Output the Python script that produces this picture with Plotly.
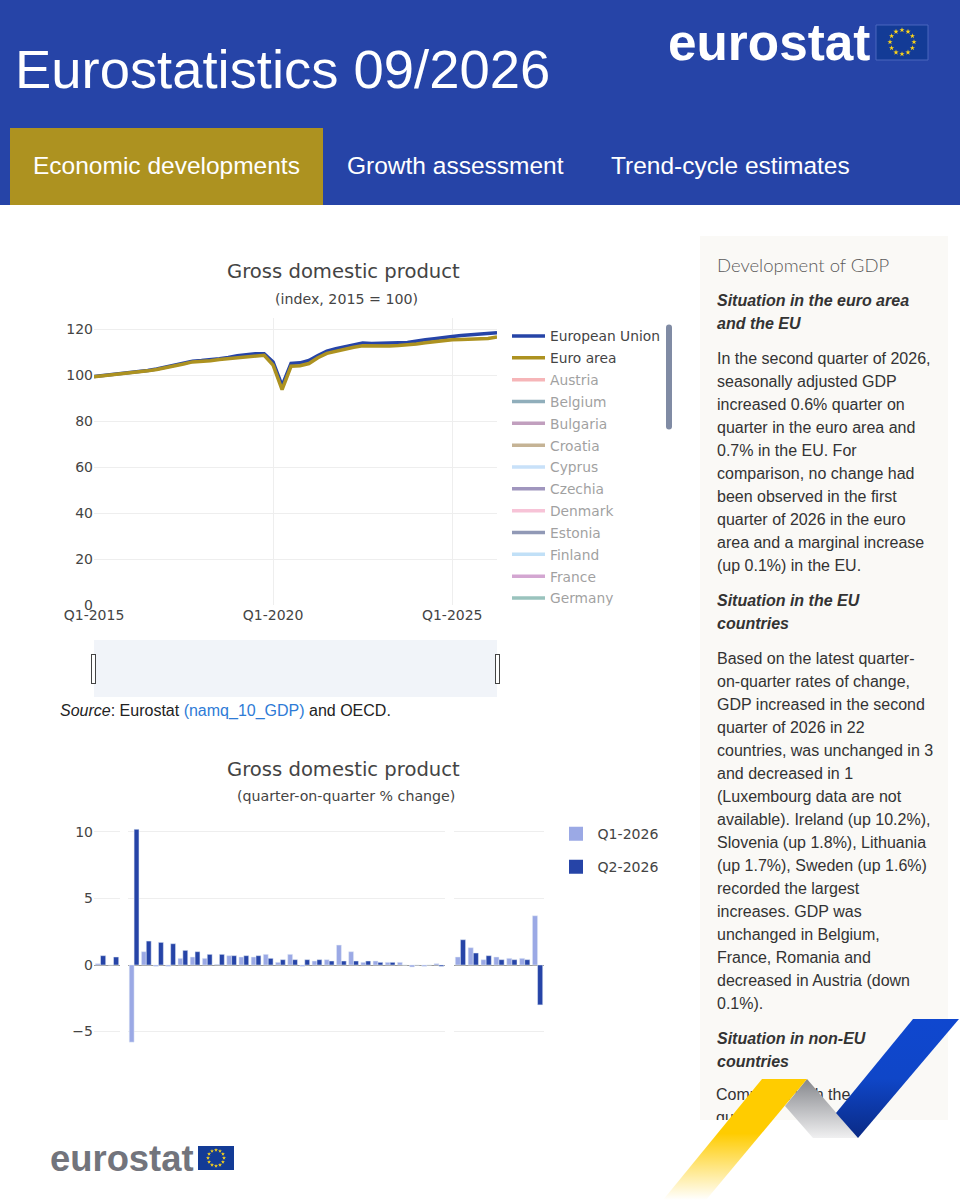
import math
import plotly.graph_objects as go

# ---------- data ----------
QUARTERS = [f"Q{q}-{y}" for y in range(2015, 2027) for q in (1, 2, 3, 4)][:46]
EU_INDEX = [99.5, 99.9, 100.4, 100.9, 101.3, 101.7, 102.2, 102.8, 103.6, 104.4, 105.3, 106.2,
            106.5, 106.8, 107.3, 107.8, 108.6, 109.0, 109.4, 109.4,
            105.8, 95.6, 105.2, 105.5, 106.5, 108.7, 110.6, 111.6, 112.5, 113.2, 114.1, 113.9,
            113.9, 114.0, 114.2, 114.3, 115.0, 115.5, 116.0, 116.6, 117.0, 117.4, 117.7, 118.0,
            118.1, 118.6]
EA_INDEX = [99.4, 99.8, 100.2, 100.7, 101.1, 101.5, 102.0, 102.6, 103.3, 104.1, 105.0, 105.9,
            106.0, 106.4, 106.9, 107.3, 107.8, 108.2, 108.6, 108.8,
            104.5, 93.8, 104.0, 104.2, 105.2, 107.7, 109.6, 110.5, 111.5, 112.3, 112.9, 112.8,
            112.7, 112.8, 113.0, 113.2, 113.7, 114.2, 114.7, 115.2, 115.5, 115.7, 115.9, 116.1,
            116.1, 116.7]
LEGEND_ONLY = [("Austria", "#EE6E73"), ("Belgium", "#24607A"), ("Bulgaria", "#84417F"), ("Croatia", "#8C6A2E"),
               ("Cyprus", "#93C4F5"), ("Czechia", "#44307F"), ("Denmark", "#F089B0"), ("Estonia", "#26356F"),
               ("Finland", "#85C2F0"), ("France", "#A94FA5"), ("Germany", "#37877C"), ("Greece", "#888888"),
               ("Hungary", "#888888"), ("Ireland", "#888888"), ("Italy", "#888888"), ("Latvia", "#888888"),
               ("Lithuania", "#888888"), ("Luxembourg", "#888888"), ("Malta", "#888888"), ("Netherlands", "#888888"),
               ("Poland", "#888888"), ("Portugal", "#888888"), ("Romania", "#888888"), ("Slovakia", "#888888"),
               ("Slovenia", "#888888"), ("Spain", "#888888"), ("Sweden", "#888888"), ("Norway", "#888888"),
               ("Switzerland", "#888888"), ("United Kingdom", "#888888"), ("Iceland", "#888888"),
               ("United States", "#888888"), ("Japan", "#888888")]

# The bars carry no readable labels in the picture; only the countries named in the text are named.
AGG_CATS = ["European Union", "Euro area"]
AGG_Q1 = [0.1, 0.0]
AGG_Q2 = [0.7, 0.6]
EU_CATS = ["Ireland", "Slovenia", "Lithuania", "Sweden"] + [f"EU member {i}" for i in range(5, 23)] + \
          ["Belgium", "France", "Romania", "Austria"]
EU_Q1 = [-5.8, 1.0, -0.1, -0.1, 0.5, 0.6, 0.5, 0.05, 0.7, 0.6, 0.6, 0.8, 0.2, 0.8, -0.1, 0.3, 0.4, 1.5, 1.0, 0.2,
         0.3, 0.2, 0.2, -0.15, -0.1, 0.1]
EU_Q2 = [10.2, 1.8, 1.7, 1.6, 1.1, 1.0, 0.8, 0.8, 0.7, 0.7, 0.7, 0.5, 0.4, 0.4, 0.4, 0.4, 0.3, 0.3, 0.3, 0.3,
         0.2, 0.2, 0.0, 0.0, 0.0, -0.1]
NON_CATS = [f"Non-EU {i}" for i in range(1, 8)]
NON_Q1 = [0.6, 1.3, 0.4, 0.6, 0.5, 0.5, 3.7]
NON_Q2 = [1.9, 0.9, 0.7, 0.4, 0.4, 0.4, -3.0]

TABS = [("Growth assessment", 346), ("Trend-cycle estimates", 610)]
PANEL_LINES = [
    (300, "b", "Situation in the euro area"), (323, "b", "and the EU"),
    (358, "n", "In the second quarter of 2026,"), (381, "n", "seasonally adjusted GDP"),
    (404, "n", "increased 0.6% quarter on"), (427, "n", "quarter in the euro area and"),
    (450, "n", "0.7% in the EU. For"), (473, "n", "comparison, no change had"),
    (496, "n", "been observed in the first"), (519, "n", "quarter of 2026 in the euro"),
    (542, "n", "area and a marginal increase"), (565, "n", "(up 0.1%) in the EU."),
    (600, "b", "Situation in the EU"), (623, "b", "countries"),
    (658, "n", "Based on the latest quarter-"), (681, "n", "on-quarter rates of change,"),
    (704, "n", "GDP increased in the second"), (727, "n", "quarter of 2026 in 22"),
    (750, "n", "countries, was unchanged in 3"), (773, "n", "and decreased in 1"),
    (796, "n", "(Luxembourg data are not"), (819, "n", "available). Ireland (up 10.2%),"),
    (842, "n", "Slovenia (up 1.8%), Lithuania"), (865, "n", "(up 1.7%), Sweden (up 1.6%)"),
    (888, "n", "recorded the largest"), (911, "n", "increases. GDP was"),
    (934, "n", "unchanged in Belgium,"), (957, "n", "France, Romania and"),
    (980, "n", "decreased in Austria (down"), (1003, "n", "0.1%)."),
    (1038, "b", "Situation in non-EU"), (1061, "b", "countries"),
]
PANEL_COVERED = [(1096, "Compared with the"), (1119, "quarter")]

# ---------- style ----------
BLUE = "#2644A7"; GOLD = "#AD9220"; LIGHT = "#9BA9E5"; INK = "#444444"
BODY = "Liberation Sans"; CHART = "DejaVu Sans"

def px(x): return x / 960
def py(y): return 1 - y / 1200

fig = go.Figure()

# line chart
fig.add_trace(go.Scatter(x=QUARTERS, y=EU_INDEX, name="European Union", mode="lines", legendgroup="European Union",
                         line=dict(color=BLUE, width=3.5), xaxis="x", yaxis="y"))
fig.add_trace(go.Scatter(x=QUARTERS, y=EA_INDEX, name="Euro area", mode="lines", legendgroup="Euro area",
                         line=dict(color=GOLD, width=3.5), xaxis="x", yaxis="y"))
for name, color in LEGEND_ONLY:
    fig.add_trace(go.Scatter(x=QUARTERS, y=[None] * len(QUARTERS), name=name, mode="lines", visible="legendonly",
                             legendgroup=name, line=dict(color=color, width=3.5), xaxis="x", yaxis="y"))
# companion axis that carries the empty range slider
fig.add_trace(go.Scatter(x=QUARTERS, y=[None] * len(QUARTERS), mode="lines", xaxis="x7", yaxis="y7",
                         showlegend=False, hoverinfo="skip"))

# bar chart: three panels sharing one y axis
groups = [("x3", AGG_CATS, AGG_Q1, AGG_Q2), ("x4", EU_CATS, EU_Q1, EU_Q2), ("x5", NON_CATS, NON_Q1, NON_Q2)]
for xa, cats, q1, q2 in groups:
    fig.add_trace(go.Bar(x=cats, y=q1, name="Q1-2026", marker_color=LIGHT, xaxis=xa, yaxis="y3",
                         legend="legend2", legendgroup="q1", showlegend=False))
    fig.add_trace(go.Bar(x=cats, y=q2, name="Q2-2026", marker_color=BLUE, xaxis=xa, yaxis="y3",
                         legend="legend2", legendgroup="q2", showlegend=False))
# legend keys (larger swatches than a bar trace offers)
for name, color, group in (("Q1-2026", LIGHT, "q1"), ("Q2-2026", BLUE, "q2")):
    fig.add_trace(go.Scatter(x=[None], y=[None], name=name, mode="markers", legend="legend2", legendgroup=group,
                             marker=dict(symbol="square", size=14, color=color), xaxis="x6", yaxis="y6"))

# page layer: flag stars, covered text lines and ribbon
def stars(cx, cy, r, size, color):
    xs = [cx + r * math.sin(k * math.pi / 6) for k in range(12)]
    ys = [cy - r * math.cos(k * math.pi / 6) for k in range(12)]
    fig.add_trace(go.Scatter(x=xs, y=ys, mode="markers", marker=dict(symbol="star", size=size, color=color),
                             xaxis="x6", yaxis="y6", showlegend=False, hoverinfo="skip"))

stars(902, 42, 12, 4, "#FFD617")
stars(216, 1158, 8, 3, "#FFD617")

fig.add_trace(go.Scatter(x=[716, 716], y=[l[0] for l in PANEL_COVERED], text=[l[1] for l in PANEL_COVERED],
                         mode="text", textposition="middle right", textfont=dict(family=BODY, size=16, color="#333333"),
                         xaxis="x6", yaxis="y6", showlegend=False, hoverinfo="skip"))

def ribbon(xs, ys, scale):
    fig.add_trace(go.Scatter(x=xs, y=ys, mode="none", fill="toself",
                             fillgradient=dict(type="vertical", colorscale=scale),
                             xaxis="x6", yaxis="y6", showlegend=False, hoverinfo="skip"))

layout_shapes = [
    dict(type="rect", xref="paper", yref="paper", x0=0, x1=1, y0=py(205), y1=1, fillcolor=BLUE, line_width=0, layer="below"),
    dict(type="rect", xref="paper", yref="paper", x0=px(10), x1=px(323), y0=py(205), y1=py(128), fillcolor=GOLD, line_width=0, layer="below"),
    dict(type="rect", xref="paper", yref="paper", x0=px(700), x1=px(948), y0=py(1120), y1=py(236), fillcolor="#FAF9F6", line_width=0, layer="below"),
    dict(type="rect", xref="paper", yref="paper", x0=px(876), x1=px(928), y0=py(60), y1=py(25), fillcolor="#133B96", line=dict(color="#4A66BE", width=1), layer="below"),
    dict(type="rect", xref="paper", yref="paper", x0=px(198), x1=px(234), y0=py(1170), y1=py(1146), fillcolor="#133B96", line_width=0, layer="below"),
]

ann = []
def text(x, y, s, size, color, family=BODY, anchor="left", **kw):
    font = dict(family=family, size=size, color=color)
    font.update(kw)
    ann.append(dict(xref="paper", yref="paper", x=px(x), y=py(y), text=s, showarrow=False, xanchor=anchor,
                    yanchor="middle", borderpad=0, font=font))

text(14, 69, "Eurostatistics 09/2026", 54.4, "#FFFFFF")
text(32, 166, "Economic developments", 24.5, "#FFFFFF")
for label, x in TABS:
    text(x, 166, label, 24.5, "#FFFFFF")
text(667, 42, "<b>eurostat</b>", 51.3, "#FFFFFF")
text(49, 1158, "<b>eurostat</b>", 36.4, "#72747C")
text(343, 271, "Gross domestic product", 19.6, INK, CHART, "center")
text(346, 299, "(index, 2015 = 100)", 14.2, INK, CHART, "center")
text(343, 769, "Gross domestic product", 19.6, INK, CHART, "center")
text(346, 796, "(quarter-on-quarter % change)", 14.2, INK, CHART, "center")
text(59, 711, '<i>Source</i>: Eurostat <span style="color:#2E7BD6">(namq_10_GDP)</span> and OECD.', 16, "#222222")
text(716, 265, "Development of GDP", 18.5, "#5A5A5A", "Lato", weight=300)
for y, kind, line in PANEL_LINES:
    text(716, y, f"<b><i>{line}</i></b>" if kind == "b" else line, 16, "#333333")

fig.update_layout(
    width=960, height=1200, margin=dict(l=0, r=0, t=0, b=0, autoexpand=False), autosize=False,
    paper_bgcolor="#FFFFFF", plot_bgcolor="rgba(0,0,0,0)",
    barmode="group", bargap=0.2, bargroupgap=0, hovermode="closest",
    shapes=layout_shapes, annotations=ann,
    font=dict(family=CHART, size=14, color=INK),
    legend=dict(x=px(507), y=py(320.5), xanchor="left", yanchor="top", maxheight=285, itemwidth=33, tracegroupgap=0.9,
                font=dict(family=CHART, size=13.8, color=INK), bgcolor="rgba(0,0,0,0)"),
    legend2=dict(x=px(554.5), y=py(818), xanchor="left", yanchor="top", tracegroupgap=11.7, itemwidth=33,
                 font=dict(family=CHART, size=14.1, color=INK), bgcolor="rgba(0,0,0,0)"),
    xaxis=dict(domain=[px(94), px(497)], anchor="y", type="category", categoryorder="array", categoryarray=QUARTERS,
               range=[0, 45], tickmode="array", tickvals=["Q1-2015", "Q1-2020", "Q1-2025"], showgrid=True, gridcolor="#EEEEEE",
               zeroline=False, showline=False, ticks="", tickfont=dict(size=14, color=INK)),
    yaxis=dict(domain=[py(605.3), py(318)], anchor="x", range=[0, 125], tickvals=[0, 20, 40, 60, 80, 100, 120], gridcolor="#EEEEEE",
               zeroline=False, showline=False, ticks="", tickfont=dict(size=14, color=INK)),
    xaxis3=dict(domain=[px(94), px(120)], anchor="y3", showticklabels=False, showgrid=False, zeroline=False, ticks=""),
    xaxis4=dict(domain=[px(128), px(445)], anchor="y3", showticklabels=False, showgrid=False, zeroline=False, ticks=""),
    xaxis5=dict(domain=[px(454), px(544)], anchor="y3", showticklabels=False, showgrid=False, zeroline=False, ticks=""),
    yaxis3=dict(domain=[py(1048), py(822)], anchor="x3", range=[-6.24, 10.75], tickvals=[-5, 0, 5, 10], gridcolor="#EEEEEE",
                zeroline=True, zerolinecolor="#999999", zerolinewidth=1, showline=False, ticks="", tickfont=dict(size=14, color=INK)),
    xaxis6=dict(domain=[0, 1], anchor="y6", range=[0, 960], visible=False, fixedrange=True),
    yaxis6=dict(domain=[0, 1], anchor="x6", range=[1200, 0], visible=False, fixedrange=True),
    xaxis7=dict(domain=[px(94), px(497)], anchor="y7", type="category", matches="x", showticklabels=False, showgrid=False,
                zeroline=False, ticks="",
                rangeslider=dict(visible=True, thickness=57 / 1200, bgcolor="#F1F4F9", borderwidth=0, range=[0, 45])),
    yaxis7=dict(domain=[py(625), py(610)], anchor="x7", visible=False, range=[0, 1], fixedrange=True),
)

# ribbon last so that it lies over the covered text
fig.add_trace(go.Scatter(x=[700, 948, 948, 700], y=[1120, 1120, 1132, 1132], mode="none", fill="toself", fillcolor="#FFFFFF",
                         xaxis="x6", yaxis="y6", showlegend=False, hoverinfo="skip"))
ribbon([807, 785, 813, 858], [1079, 1106, 1138, 1138], [[0, "#F0F0F1"], [1, "#85878C"]])
ribbon([762, 807, 706, 663], [1079, 1079, 1200, 1200], [[0, "rgba(255,204,0,0)"], [0.55, "rgba(255,204,0,1)"], [1, "rgba(255,204,0,1)"]])
ribbon([913, 959, 858, 836], [1019, 1019, 1138, 1113], [[0, "#0A2A85"], [0.5, "#0F46C8"], [1, "#0F47CF"]])

fig.write_html("out.html", config=dict(displayModeBar=False),
               post_script="document.body.style.margin='0';document.documentElement.style.overflow='hidden';")
